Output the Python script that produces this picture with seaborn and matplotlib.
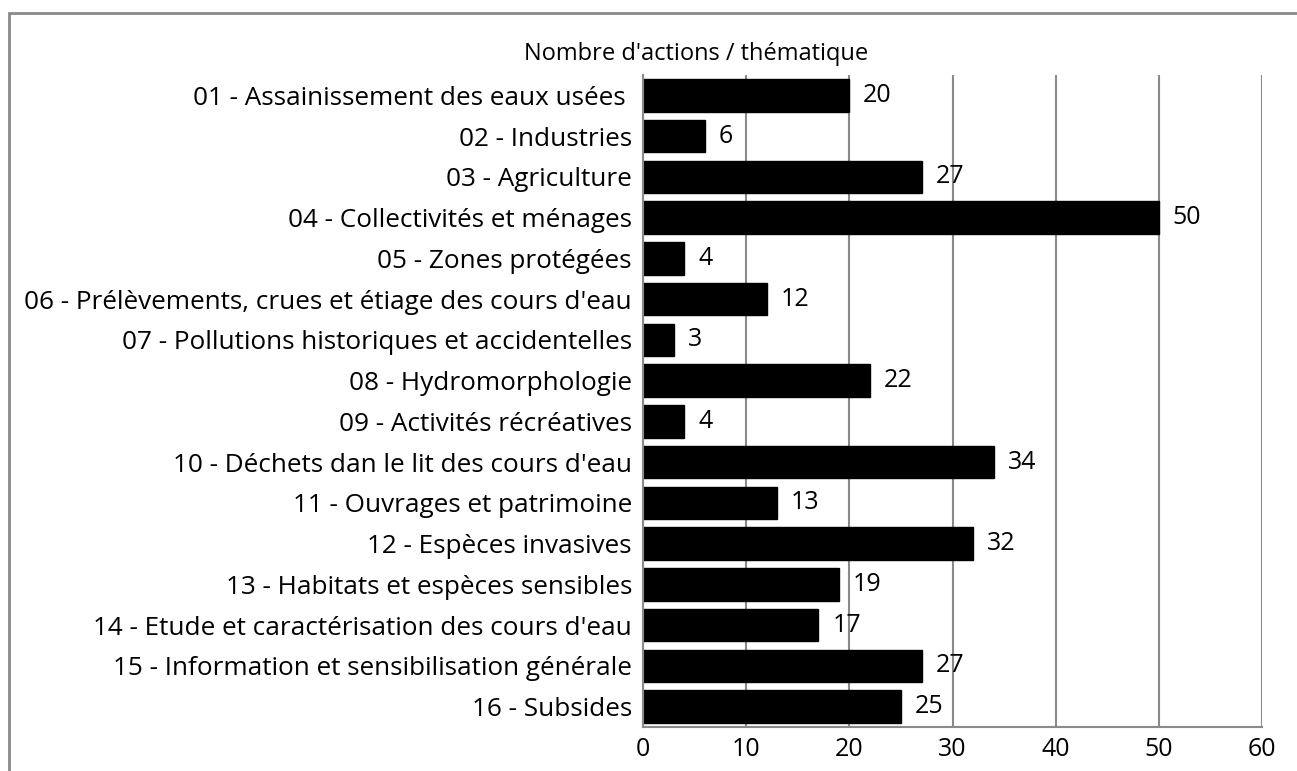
import matplotlib
matplotlib.use("Agg")
import matplotlib.pyplot as plt
import seaborn as sns
import pandas as pd
from matplotlib.patches import Rectangle

categories = [
    "01 - Assainissement des eaux usées ",
    "02 - Industries",
    "03 - Agriculture",
    "04 - Collectivités et ménages",
    "05 - Zones protégées",
    "06 - Prélèvements, crues et étiage des cours d'eau",
    "07 - Pollutions historiques et accidentelles",
    "08 - Hydromorphologie",
    "09 - Activités récréatives",
    "10 - Déchets dan le lit des cours d'eau",
    "11 - Ouvrages et patrimoine",
    "12 - Espèces invasives",
    "13 - Habitats et espèces sensibles",
    "14 - Etude et caractérisation des cours d'eau",
    "15 - Information et sensibilisation générale",
    "16 - Subsides",
]
values = [20, 6, 27, 50, 4, 12, 3, 22, 4, 34, 13, 32, 19, 17, 27, 25]
x_ticks = [0, 10, 20, 30, 40, 50, 60]
title = "Nombre d'actions / thématique"

sns.set_theme(style="white")
plt.rcParams['font.family'] = ['Open Sans', 'DejaVu Sans']

df = pd.DataFrame({"cat": categories, "val": values})

fig = plt.figure(figsize=(12.97, 7.71), dpi=100)
ax = fig.add_axes([643/1297, 1-727/771, (1262-643)/1297, (727-75)/771])

sns.barplot(data=df, x="val", y="cat", orient="h", color="black",
            saturation=1, width=0.8, ax=ax, edgecolor="black")

ax.set_xlim(0, 60)
ax.set_xticks(x_ticks)
ax.set_xticklabels([str(t) for t in x_ticks])
ax.set_xlabel("")
ax.set_ylabel("")
ax.xaxis.grid(True, color="#8a8a8a", linewidth=1.5)
ax.yaxis.grid(False)
ax.set_axisbelow(True)
for s in ["top", "right"]:
    ax.spines[s].set_visible(False)
for s in ["left", "bottom"]:
    ax.spines[s].set_color("#8a8a8a")
    ax.spines[s].set_linewidth(1.5)
ax.tick_params(axis="x", length=0, pad=7, labelsize=18, colors="black")
ax.tick_params(axis="y", length=0, pad=8, labelsize=18.8, colors="black")

for cont in ax.containers:
    ax.bar_label(cont, labels=[str(v) for v in values], padding=10, fontsize=18, color="black")

fig.text(696/1297, 1-60/771, title, ha="center", va="baseline", fontsize=17, color="black")

fig.add_artist(Rectangle((9/1297, -0.1), 1.2, 1.1 - 13/771, transform=fig.transFigure,
                         fill=False, edgecolor="#8a8a8a", linewidth=2))

fig.savefig("out.png", dpi=100)
